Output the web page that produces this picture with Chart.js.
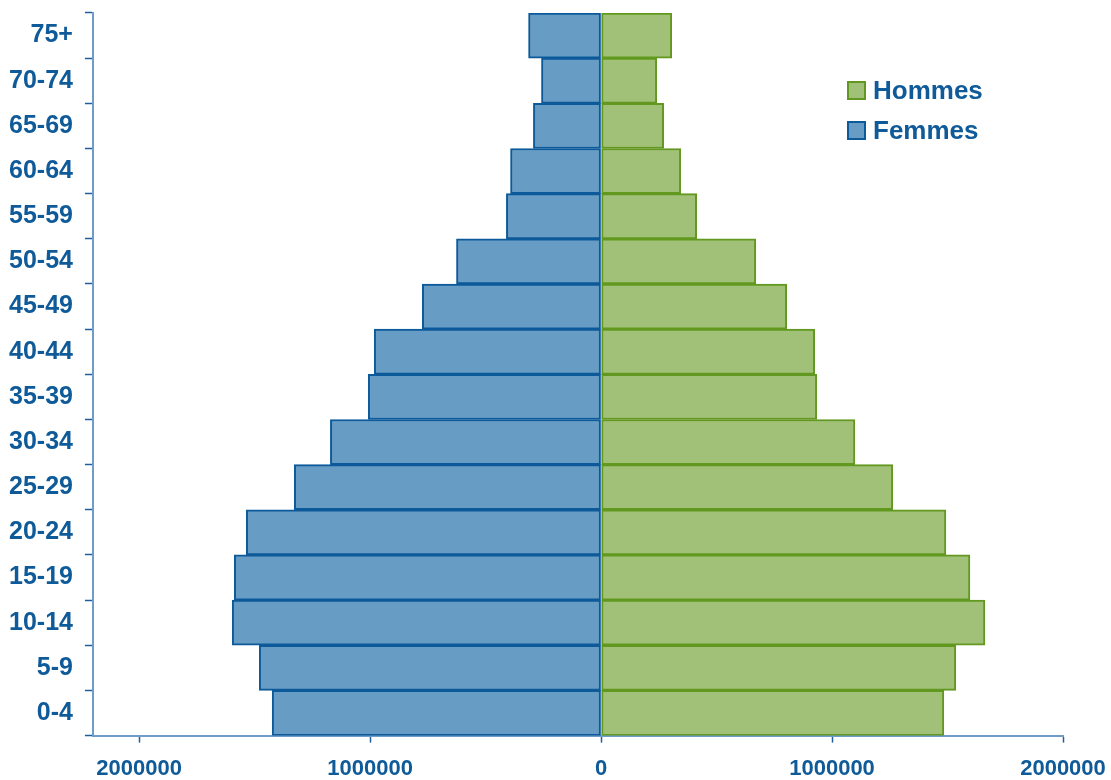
<!DOCTYPE html>
<html>
<head>
<meta charset="utf-8">
<script src="https://cdn.jsdelivr.net/npm/chart.js@4"></script>
<style>
  html, body { margin: 0; padding: 0; background: #fff; }
  #wrap { position: relative; width: 1111px; height: 780px; }
  #legend { position: absolute; left: 847px; top: 78px; font: bold 26px "Liberation Sans", Arial, sans-serif; color: #0f5a98; }
  #legend ul { list-style: none; margin: 0; padding: 0; }
  #legend li { height: 40px; line-height: 24px; white-space: nowrap; }
  #legend span { display: inline-block; width: 15px; height: 15px; border: 2px solid; vertical-align: -1px; margin-right: 7px; }
</style>
</head>
<body>
<div id="wrap">
  <canvas id="pyramid" width="1111" height="780"></canvas>
  <div id="legend"></div>
</div>
<script>
let ageGroups = ['75+', '70-74', '65-69', '60-64', '55-59', '50-54', '45-49', '40-44',
                 '35-39', '30-34', '25-29', '20-24', '15-19', '10-14', '5-9', '0-4'];

let hommes = [306000, 241000, 271000, 345000, 414000, 670000, 804000, 925000,
              934000, 1099000, 1263000, 1493000, 1597000, 1662000, 1536000, 1484000];

let femmes = [314000, 258000, 293000, 392000, 410000, 626000, 774000, 982000,
              1008000, 1172000, 1328000, 1536000, 1588000, 1597000, 1480000, 1424000];

let xTicks = [-2000000, -1000000, 0, 1000000, 2000000];

let blueText = '#0f5a98';

let chartData = {
  labels: ageGroups,
  datasets: [
    {
      label: 'Hommes',
      data: hommes,
      backgroundColor: '#a2c178',
      borderColor: '#62981f',
      borderWidth: 2,
      borderSkipped: false
    },
    {
      label: 'Femmes',
      // femmes go to the left side
      data: femmes.map(v => -v),
      backgroundColor: '#679cc4',
      borderColor: '#0c5a9a',
      borderWidth: 2,
      borderSkipped: false
    }
  ]
};

window.addEventListener('DOMContentLoaded', () => {
  const box = document.getElementById('pyramid');
  const legendBox = document.getElementById('legend');

  new Chart(box, {
    type: 'bar',
    data: chartData,
    options: {
      indexAxis: 'y',
      responsive: false,
      animation: false,
      barPercentage: 1,
      categoryPercentage: 1,
      layout: { padding: { top: 13, left: -3, right: 48, bottom: -15 } },
      plugins: {
        legend: { display: false },
        tooltip: { enabled: false }
      },
      scales: {
        x: {
          stacked: true,
          min: -2200000,
          max: 2000000,
          afterBuildTicks: axis => { axis.ticks = xTicks.map(v => ({ value: v })); },
          // label overflow is handled by layout padding instead
          afterFit: axis => { axis.paddingLeft = 0; axis.paddingRight = 0; },
          grid: { drawOnChartArea: false, tickLength: 7, tickColor: '#1c5f9c', tickWidth: 1.5 },
          border: { color: '#6f9dc9', width: 2 },
          ticks: {
            color: blueText,
            padding: 13,
            maxRotation: 0,
            font: { family: 'Liberation Sans', size: 22, weight: 'bold' },
            callback: v => String(Math.abs(v))
          }
        },
        y: {
          stacked: true,
          afterFit: axis => { axis.paddingTop = 0; axis.paddingBottom = 0; },
          grid: { drawOnChartArea: false, tickLength: 8, tickColor: '#1c5f9c', tickWidth: 1.5, offset: true },
          border: { color: '#6f9dc9', width: 2 },
          ticks: {
            color: blueText,
            padding: 12,
            font: { family: 'Liberation Sans', size: 25, weight: 'bold' }
          }
        }
      }
    },
    plugins: [{
      beforeInit: function(chart) {
        // legend drawn as html, top right
        const ul = document.createElement('ul');
        chart.data.datasets.forEach(ds => {
          ul.innerHTML += `<li><span style="background:${ds.backgroundColor};border-color:${ds.borderColor}"></span>${ds.label}</li>`;
        });
        legendBox.appendChild(ul);
      }
    }]
  });
});
</script>
</body>
</html>
